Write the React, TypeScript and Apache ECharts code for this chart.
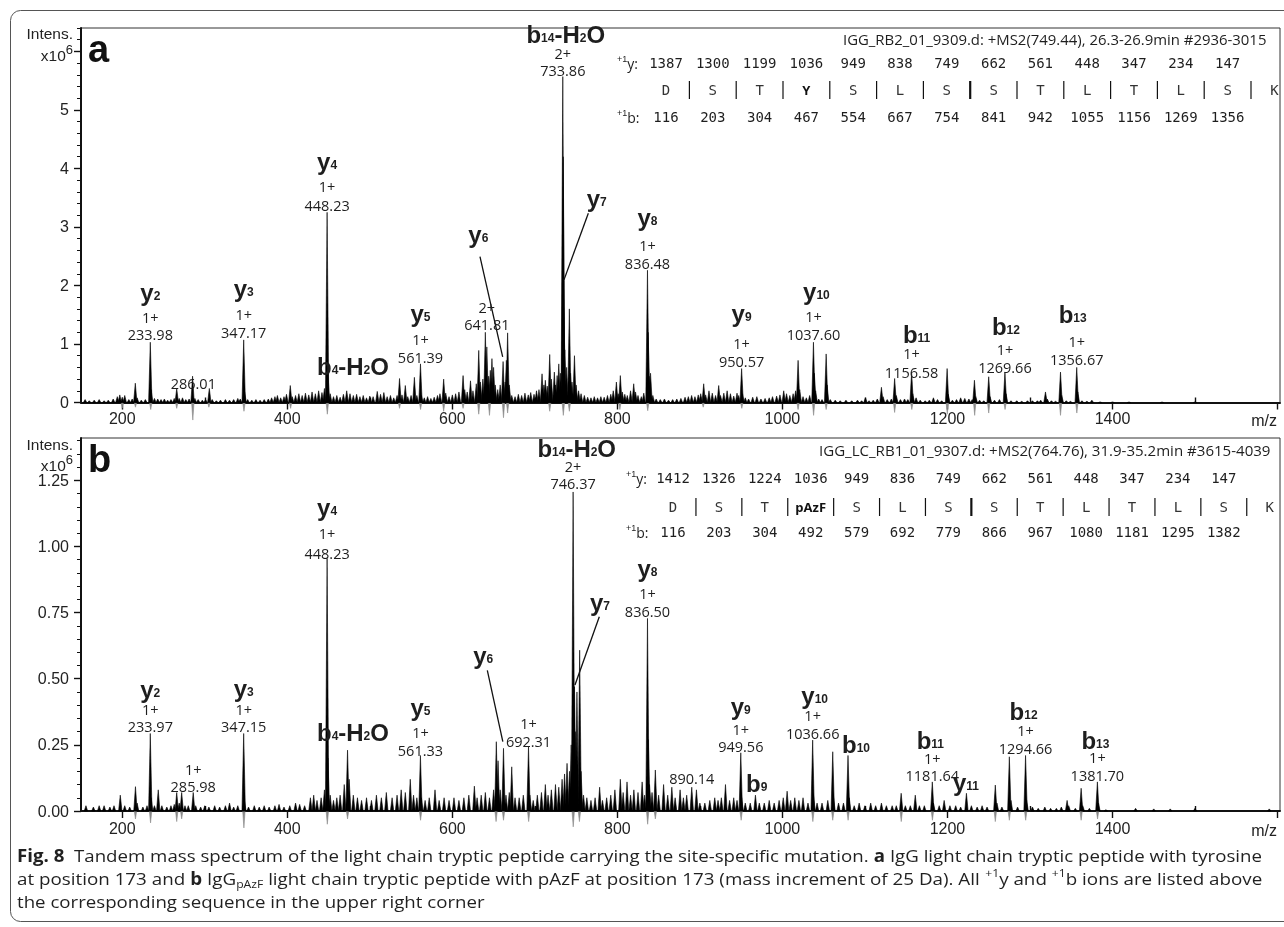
import React, { useEffect, useRef } from "react";
import * as echarts from "echarts";

const SANS = '"Liberation Sans", Arial, Helvetica, sans-serif';
const OPEN = '"Open Sans", "Noto Sans", sans-serif';
const MONO = '"DejaVu Sans Mono", "Liberation Mono", monospace';

// ---------- axes ----------
const X_MIN = 150;
const X_MAX = 1603;
const xMajorTicks = [200, 400, 600, 800, 1000, 1200, 1400, 1600];
const xTickLabels = [200, 400, 600, 800, 1000, 1200, 1400];
const xMinorTicks = [300, 500, 700, 900, 1100, 1300, 1500];

const Y_MAX_A = 6.4;
const yMajorA = [0, 1, 2, 3, 4, 5, 6];
const yLabelsA = [0, 1, 2, 3, 4, 5];
const Y_MAX_B = 1.41;
const yMajorB = [0, 0.25, 0.5, 0.75, 1.0, 1.25];

// ---------- spectrum a: [m/z, intensity x10^6] ----------
const peaksA: [number, number][] = [
  [155,0.05],[160,0.03],[166,0.04],[172,0.05],[178,0.03],[183,0.04],[189,0.06],[194,0.1],[197,0.13],[200,0.09],
  [203,0.12],[208,0.05],[212,0.06],[215.8,0.33],[218,0.08],[223,0.04],[228,0.05],[233.98,1.03],[235,0.22],[239,0.07],
  [243,0.06],[247,0.05],[251,0.06],[255,0.04],[259,0.05],[263,0.07],[266,0.24],[269,0.07],[273,0.08],[277,0.05],
  [281,0.06],[285.2,0.45],[288,0.07],[292,0.05],[297,0.04],[301,0.05],[305.5,0.24],[309,0.05],[314,0.03],[319,0.04],
  [325,0.05],[330,0.04],[335,0.05],[340,0.07],[343,0.06],[347.17,1.07],[348.3,0.18],[352,0.05],[357,0.04],[362,0.05],
  [367,0.04],[372,0.05],[377,0.06],[381,0.08],[385,0.1],[388,0.12],[392,0.08],[396,0.1],[399,0.14],[403.6,0.29],
  [406,0.1],[410,0.12],[414,0.15],[418,0.12],[422,0.16],[426,0.13],[430,0.18],[434,0.15],[438,0.2],[442,0.17],
  [445,0.24],[448.23,3.25],[449.3,0.5],[452,0.15],[456,0.1],[460,0.12],[464,0.09],[468,0.14],[472,0.2],[476,0.15],
  [480,0.12],[484,0.14],[488,0.1],[492,0.12],[496,0.08],[500,0.11],[504,0.1],[509,0.19],[513,0.14],[517,0.17],
  [521,0.1],[525,0.12],[529,0.08],[533,0.12],[536,0.41],[539,0.13],[543,0.29],[546,0.1],[550,0.12],[554,0.43],
  [557,0.12],[561.39,0.66],[562.5,0.12],[566,0.08],[570,0.1],[574,0.07],[578,0.09],[582,0.12],[585,0.15],[589.5,0.4],
  [592,0.16],[596,0.1],[600,0.13],[604,0.15],[608,0.18],[613,0.46],[615,0.22],[618,0.18],[622,0.37],[625,0.2],
  [629,0.32],[632,0.89],[634,0.35],[637,0.4],[640,1.2],[641.8,0.95],[644,0.45],[646,0.55],[648,0.75],[650,0.6],
  [652,0.3],[655,0.22],[658,0.3],[661.5,0.7],[664,0.35],[665.5,0.72],[667,1.19],[669,0.3],[672,0.12],[676,0.1],
  [680,0.14],[684,0.12],[688,0.16],[692,0.13],[695,0.17],[699,0.14],[702,0.2],[705,0.22],[708.7,0.49],[711,0.3],
  [712.7,0.38],[715,0.28],[718,0.82],[720,0.4],[723.6,0.52],[725,0.3],[727,0.46],[729,0.66],[731,0.5],[733.86,5.57],
  [734.4,4.2],[734.9,2.09],[736.3,0.9],[738.5,0.6],[741.8,1.6],[743.3,0.5],[745,0.35],[748,0.8],[750,0.3],[753,0.2],
  [756,0.15],[760,0.12],[764,0.09],[768,0.08],[772,0.1],[776,0.08],[780,0.1],[784,0.09],[788,0.12],[792,0.14],
  [795,0.2],[798.8,0.35],[801,0.15],[803.6,0.46],[806,0.18],[809,0.14],[812,0.12],[816,0.2],[819.8,0.32],[822,0.18],
  [825,0.12],[829,0.1],[832,0.16],[836.48,2.26],[837.3,1.2],[838.5,0.45],[840.2,0.5],[843,0.12],[847,0.06],[852,0.05],
  [857,0.06],[862,0.04],[867,0.05],[872,0.06],[877,0.07],[882,0.09],[886,0.1],[890,0.12],[894,0.1],[898,0.13],
  [901,0.15],[904.6,0.32],[907,0.13],[911,0.2],[915,0.16],[919,0.12],[922.8,0.29],[925,0.12],[929,0.16],[933,0.2],
  [937,0.15],[941,0.11],[945,0.16],[947,0.12],[950.57,0.58],[951.6,0.15],[955,0.08],[959,0.06],[964,0.09],[969,0.1],
  [974,0.06],[979,0.07],[984,0.08],[988,0.1],[993,0.11],[997,0.13],[1001.6,0.2],[1005,0.15],[1009,0.12],[1013,0.15],
  [1016,0.2],[1019,0.72],[1021,0.22],[1025,0.1],[1029,0.08],[1033,0.12],[1037.6,1.03],[1038.7,0.5],[1040.3,0.2],[1044,0.06],
  [1048,0.05],[1053,0.83],[1054.2,0.3],[1058,0.05],[1064,0.04],[1070,0.03],[1077,0.04],[1084,0.03],[1091,0.04],[1096,0.03],
  [1100.6,0.08],[1105,0.03],[1110,0.04],[1115,0.06],[1120,0.26],[1122,0.1],[1127,0.05],[1132,0.06],[1136,0.41],[1138,0.12],
  [1143,0.05],[1148,0.06],[1152,0.05],[1156.58,0.52],[1158,0.15],[1162,0.08],[1167,0.04],[1173,0.03],[1178,0.04],[1183,0.08],
  [1188,0.05],[1193,0.03],[1199.6,0.58],[1201,0.14],[1206,0.04],[1211,0.05],[1216,0.08],[1221,0.07],[1226,0.06],[1230,0.05],
  [1232.7,0.38],[1234.3,0.1],[1239,0.04],[1244,0.03],[1250,0.44],[1251.6,0.1],[1257,0.04],[1263,0.05],[1269.66,0.52],[1271,0.15],
  [1277,0.03],[1284,0.03],[1290,0.02],[1297,0.03],[1303,0.03],[1309,0.03],[1313,0.04],[1318.8,0.18],[1321,0.06],[1326,0.03],
  [1331,0.02],[1337,0.52],[1338.5,0.12],[1344,0.03],[1349,0.02],[1356.67,0.6],[1358,0.18],[1363,0.03],[1369,0.02],[1375,0.04],
  [1385,0.01],[1400,0.01],[1420,0.008],[1460,0.008],[1500,0.01],
];
const dipsA: [number, number][] = [
  [200,-0.1],[216,-0.08],[234.5,-0.12],[266,-0.1],[285.5,-0.3],[305,-0.08],[347.5,-0.15],[404,-0.1],[448.5,-0.2],[536,-0.1],
  [561.5,-0.12],[589.5,-0.15],[613,-0.1],[632,-0.2],[645,-0.22],[662,-0.26],[667,-0.18],[718,-0.15],[734.5,-0.22],[741.8,-0.15],
  [803,-0.12],[836.8,-0.14],[904,-0.08],[950.8,-0.1],[1019,-0.12],[1037.8,-0.22],[1053,-0.12],[1136,-0.17],[1156.8,-0.12],[1199.8,-0.2],
  [1233,-0.22],[1250,-0.18],[1269.8,-0.12],[1337,-0.22],[1356.8,-0.18],
];

// ---------- spectrum b ----------
const peaksB: [number, number][] = [
  [156,0.02],[165,0.015],[172,0.02],[178,0.02],[185,0.015],[190,0.02],[197.6,0.06],[203,0.02],[209,0.015],[216,0.092],
  [218,0.03],[225,0.015],[230,0.02],[233.97,0.293],[235,0.05],[239,0.02],[243.6,0.08],[248,0.02],[254,0.015],[259,0.02],
  [263,0.025],[266,0.07],[269,0.03],[272,0.07],[276,0.02],[280,0.02],[285.98,0.07],[289,0.02],[295,0.015],[300,0.02],
  [305,0.015],[312,0.02],[318,0.015],[325,0.02],[330,0.03],[335,0.015],[340,0.02],[347.15,0.293],[348,0.04],[353,0.015],
  [360,0.02],[366,0.015],[372,0.02],[378,0.015],[385,0.02],[390,0.025],[396,0.015],[403,0.02],[410,0.03],[415,0.025],
  [421,0.02],[428,0.05],[432,0.06],[436,0.04],[441,0.05],[445,0.08],[448.23,0.955],[449.2,0.2],[452,0.06],[456,0.04],
  [460,0.05],[464,0.06],[469,0.1],[473,0.23],[475,0.12],[480,0.06],[485,0.05],[490,0.04],[496,0.05],[502,0.04],
  [508,0.06],[514,0.05],[520,0.07],[527,0.05],[533,0.06],[538,0.08],[543,0.07],[549,0.12],[553,0.06],[557,0.05],
  [561.33,0.21],[562.5,0.05],[567,0.04],[572,0.05],[579,0.08],[584,0.04],[590,0.05],[596,0.04],[602,0.05],[608,0.04],
  [614,0.05],[620,0.06],[626.7,0.094],[630,0.05],[635,0.06],[640,0.07],[645,0.05],[650,0.08],[653.3,0.262],[655.4,0.19],
  [658,0.08],[662,0.237],[665,0.06],[669,0.07],[672,0.167],[676,0.05],[681,0.05],[686,0.06],[692.31,0.243],[694,0.06],
  [698,0.04],[703,0.06],[708,0.07],[712.7,0.1],[716,0.06],[720,0.08],[725,0.1],[729,0.09],[733,0.12],[736,0.14],
  [739,0.18],[742,0.15],[744,0.25],[746.37,1.206],[746.9,0.5],[748,0.47],[749.5,0.3],[751,0.45],[754.3,0.608],[756,0.15],
  [759,0.06],[763,0.05],[768,0.04],[773,0.05],[778.5,0.09],[782,0.04],[787,0.05],[792,0.06],[797,0.08],[803.6,0.12],
  [807,0.07],[811.7,0.11],[816,0.06],[820,0.08],[825,0.07],[830,0.11],[833,0.06],[836.5,0.728],[837.5,0.27],[839,0.1],
  [842,0.07],[846,0.155],[850,0.06],[856,0.1],[861,0.06],[866,0.09],[870,0.05],[876,0.08],[880,0.05],[884,0.06],
  [890.14,0.09],[895.8,0.08],[900,0.03],[906,0.03],[912,0.04],[918,0.05],[922,0.04],[926,0.05],[931,0.1],[936,0.04],
  [941,0.05],[945,0.04],[949.56,0.22],[950.6,0.05],[955,0.03],[961,0.03],[967.3,0.06],[972,0.03],[978,0.03],[984,0.04],
  [990,0.03],[996,0.04],[1001,0.05],[1005.7,0.075],[1010,0.04],[1015,0.05],[1020,0.04],[1025,0.05],[1031,0.03],[1036.66,0.268],
  [1037.7,0.06],[1042,0.03],[1048,0.03],[1055,0.04],[1061,0.224],[1062,0.05],[1068,0.03],[1074,0.03],[1079.5,0.21],[1081,0.05],
  [1087,0.02],[1093,0.03],[1100,0.02],[1107,0.03],[1113,0.02],[1120,0.03],[1126,0.02],[1133,0.02],[1138,0.02],[1143.9,0.067],
  [1149,0.02],[1155,0.02],[1161,0.06],[1166,0.02],[1172,0.02],[1181.64,0.11],[1183,0.03],[1190,0.02],[1196,0.04],[1203,0.02],
  [1210,0.02],[1216,0.015],[1223,0.067],[1229,0.02],[1236,0.015],[1242,0.02],[1248,0.015],[1258,0.098],[1260,0.03],[1266,0.015],
  [1275,0.205],[1277,0.04],[1285,0.015],[1294.66,0.21],[1296,0.04],[1303,0.015],[1310,0.01],[1318,0.015],[1325,0.01],[1332,0.01],
  [1338,0.015],[1345,0.04],[1347,0.02],[1355,0.01],[1362,0.086],[1364,0.02],[1372,0.01],[1381.7,0.11],[1383,0.03],[1392,0.005],
  [1428,0.01],[1450,0.008],[1470,0.008],[1500,0.01],[1590,0.008],
];
const dipsB: [number, number][] = [
  [216,-0.03],[234.3,-0.045],[266,-0.04],[272,-0.03],[347.4,-0.064],[448.5,-0.05],[473,-0.03],[561.5,-0.035],[653,-0.04],[662,-0.035],
  [692.5,-0.04],[746.5,-0.06],[754,-0.04],[836.7,-0.05],[846,-0.03],[950,-0.035],[1036.9,-0.04],[1061,-0.035],[1079.6,-0.035],[1144,-0.04],
  [1181.8,-0.035],[1258,-0.04],[1275,-0.035],[1294.8,-0.035],[1362,-0.035],[1381.9,-0.03],
];

// ---------- peak annotations (text) ----------
type IonLabel = { n?: string; s?: string; t?: string; s2?: string; t2?: string; charge?: string; mz?: string };
const ionLabelsA: IonLabel[] = [
  { n: "y", s: "2", charge: "1+", mz: "233.98" },
  { n: "y", s: "3", charge: "1+", mz: "347.17" },
  { mz: "286.01" },
  { n: "y", s: "4", charge: "1+", mz: "448.23" },
  { n: "b", s: "4", t: "-H", s2: "2", t2: "O" },
  { n: "y", s: "5", charge: "1+", mz: "561.39" },
  { n: "y", s: "6" },
  { charge: "2+", mz: "641.81" },
  { n: "b", s: "14", t: "-H", s2: "2", t2: "O", charge: "2+", mz: "733.86" },
  { n: "y", s: "7" },
  { n: "y", s: "8", charge: "1+", mz: "836.48" },
  { n: "y", s: "9", charge: "1+", mz: "950.57" },
  { n: "y", s: "10", charge: "1+", mz: "1037.60" },
  { n: "b", s: "11", charge: "1+", mz: "1156.58" },
  { n: "b", s: "12", charge: "1+", mz: "1269.66" },
  { n: "b", s: "13", charge: "1+", mz: "1356.67" },
];
const ionLabelsB: IonLabel[] = [
  { n: "y", s: "2", charge: "1+", mz: "233.97" },
  { n: "y", s: "3", charge: "1+", mz: "347.15" },
  { charge: "1+", mz: "285.98" },
  { n: "y", s: "4", charge: "1+", mz: "448.23" },
  { n: "b", s: "4", t: "-H", s2: "2", t2: "O" },
  { n: "y", s: "5", charge: "1+", mz: "561.33" },
  { n: "y", s: "6" },
  { charge: "1+", mz: "692.31" },
  { n: "b", s: "14", t: "-H", s2: "2", t2: "O", charge: "2+", mz: "746.37" },
  { n: "y", s: "7" },
  { n: "y", s: "8", charge: "1+", mz: "836.50" },
  { mz: "890.14" },
  { n: "y", s: "9", charge: "1+", mz: "949.56" },
  { n: "b", s: "9" },
  { n: "y", s: "10", charge: "1+", mz: "1036.66" },
  { n: "b", s: "10" },
  { n: "b", s: "11", charge: "1+", mz: "1181.64" },
  { n: "y", s: "11" },
  { n: "b", s: "12", charge: "1+", mz: "1294.66" },
  { n: "b", s: "13", charge: "1+", mz: "1381.70" },
];

// ---------- annotation layout (anchor in data space + pixel offsets) ----------
type LabelLayout = { at: [number, number]; cdy?: number; ndy?: number; ndx?: number };
const ionLayoutA: LabelLayout[] = [
  { at: [233.98, 1.17], cdy: -17, ndy: -37 },
  { at: [347.17, 1.19], cdy: -18, ndy: -39 },
  { at: [286.1, 0.33] },
  { at: [448.23, 3.37], cdy: -19, ndy: -39 },
  { at: [479.6, 0.61] },
  { at: [561.39, 0.775], cdy: -18, ndy: -39 },
  { at: [631.5, 2.78] },
  { at: [641.81, 1.327], cdy: -17 },
  { at: [733.86, 5.67], cdy: -17, ndy: -36, ndx: 3 },
  { at: [774.9, 3.406] },
  { at: [836.48, 2.381], cdy: -18, ndy: -41 },
  { at: [950.57, 0.7], cdy: -18, ndy: -43 },
  { at: [1037.6, 1.156], cdy: -18, ndy: -38, ndx: 3 },
  { at: [1156.58, 0.513], cdy: -19, ndy: -38, ndx: 5 },
  { at: [1269.66, 0.605], cdy: -18, ndy: -41, ndx: 1 },
  { at: [1356.67, 0.73], cdy: -18, ndy: -45, ndx: -4 },
];
const ionLayoutB: LabelLayout[] = [
  { at: [233.97, 0.318], cdy: -17, ndy: -32 },
  { at: [347.15, 0.318], cdy: -17, ndy: -33 },
  { at: [285.98, 0.092], cdy: -17 },
  { at: [448.23, 0.973], cdy: -20, ndy: -41 },
  { at: [479.6, 0.295] },
  { at: [561.33, 0.23], cdy: -18, ndy: -38 },
  { at: [637.5, 0.57] },
  { at: [692.31, 0.262], cdy: -18 },
  { at: [746.37, 1.2375], cdy: -17, ndy: -35, ndx: 3.6 },
  { at: [778.9, 0.771] },
  { at: [836.5, 0.753], cdy: -18, ndy: -38 },
  { at: [890.14, 0.1235] },
  { at: [949.56, 0.243], cdy: -17, ndy: -35 },
  { at: [968.8, 0.105] },
  { at: [1036.66, 0.293], cdy: -18, ndy: -33, ndx: 2 },
  { at: [1089.2, 0.253] },
  { at: [1181.64, 0.136], cdy: -17, ndy: -35, ndx: -2 },
  { at: [1222.5, 0.088] },
  { at: [1294.66, 0.237], cdy: -18, ndy: -37, ndx: -2 },
  { at: [1381.7, 0.136], cdy: -18, ndy: -35, ndx: -2 },
];
// leader lines: [fromMz, fromInt, toMz, toInt]
const leadersA: number[][] = [
  [633.5, 2.494, 661, 0.78],
  [764.8, 3.235, 735.3, 2.096],
];
const leadersB: number[][] = [
  [642.4, 0.532, 661.2, 0.262],
  [778.1, 0.734, 748.6, 0.476],
];

// ---------- sequence tables ----------
const titleA = "IGG_RB2_01_9309.d: +MS2(749.44), 26.3-26.9min #2936-3015";
const seqA = ["D", "S", "T", "Y", "S", "L", "S", "S", "T", "L", "T", "L", "S", "K"];
const yIonsA = [1387, 1300, 1199, 1036, 949, 838, 749, 662, 561, 448, 347, 234, 147];
const bIonsA = [116, 203, 304, 467, 554, 667, 754, 841, 942, 1055, 1156, 1269, 1356];
const titleB = "IGG_LC_RB1_01_9307.d: +MS2(764.76), 31.9-35.2min #3615-4039";
const seqB = ["D", "S", "T", "pAzF", "S", "L", "S", "S", "T", "L", "T", "L", "S", "K"];
const yIonsB = [1412, 1326, 1224, 1036, 949, 836, 749, 662, 561, 448, 347, 234, 147];
const bIonsB = [116, 203, 304, 492, 579, 692, 779, 866, 967, 1080, 1181, 1295, 1382];
const mutatedIndex = 3;

// ---------- caption ----------
type Seg = { t: string; s?: "b" | "sub" | "sup" };
const captionLines: Seg[][] = [
  [
    { t: "Fig. 8", s: "b" },
    { t: "  Tandem mass spectrum of the light chain tryptic peptide carrying the site-specific mutation. " },
    { t: "a", s: "b" },
    { t: " IgG light chain tryptic peptide with tyrosine" },
  ],
  [
    { t: "at position 173 and " },
    { t: "b", s: "b" },
    { t: " IgG" },
    { t: "pAzF", s: "sub" },
    { t: " light chain tryptic peptide with pAzF at position 173 (mass increment of 25 Da). All " },
    { t: "+1", s: "sup" },
    { t: "y and " },
    { t: "+1", s: "sup" },
    { t: "b ions are listed above" },
  ],
  [{ t: "the corresponding sequence in the upper right corner" }],
];

// ---------- helpers ----------
let measureCtx: CanvasRenderingContext2D | null = null;
function textWidth(text: string, font: string): number {
  if (!measureCtx) measureCtx = document.createElement("canvas").getContext("2d");
  if (!measureCtx) return text.length * 7;
  measureCtx.font = font;
  return measureCtx.measureText(text).width;
}

function minorTicks(step: number, max: number, major: number): number[] {
  const out: number[] = [];
  for (let k = 1; k * step <= max + 1e-9; k++) {
    const v = +(k * step).toFixed(4);
    const r = v / major;
    if (Math.abs(r - Math.round(r)) > 1e-6) out.push(v);
  }
  return out;
}

const AXIS_COLOR = "#111";
const TEXT_COLOR = "#1e1e1e";

function peakRender(color: string, hw: number) {
  return (_params: any, api: any) => {
    const mz = api.value(0);
    const h = api.value(1);
    const base = api.coord([mz, 0]);
    const top = api.coord([mz, h]);
    return {
      type: "polygon",
      shape: { points: [[base[0] - hw, base[1]], [top[0], top[1]], [base[0] + hw, base[1]]] },
      style: { fill: color, stroke: color, lineWidth: 0.6 },
    };
  };
}

const nameRich = {
  n: { fontSize: 24, fontWeight: "bold", fontFamily: SANS, lineHeight: 19, fill: TEXT_COLOR },
  s: { fontSize: 12, fontWeight: "bold", fontFamily: SANS, lineHeight: 9, verticalAlign: "bottom", fill: TEXT_COLOR },
};

function nameText(l: IonLabel): string {
  let s = `{n|${l.n}}{s|${l.s}}`;
  if (l.t) s += `{n|${l.t}}`;
  if (l.s2) s += `{s|${l.s2}}`;
  if (l.t2) s += `{n|${l.t2}}`;
  return s;
}

function labelRender(labels: IonLabel[], layout: LabelLayout[]) {
  return (_params: any, api: any) => {
    const i = api.value(2);
    const l = labels[i];
    const lay = layout[i];
    const p = api.coord([api.value(0), api.value(1)]);
    const children: any[] = [];
    const small = { fontSize: 14.5, fontFamily: OPEN, lineHeight: 12, fill: TEXT_COLOR, align: "center", verticalAlign: "middle" };
    if (l.mz) children.push({ type: "text", x: p[0], y: p[1], style: { text: l.mz, ...small } });
    if (l.charge) children.push({ type: "text", x: p[0], y: p[1] + (lay.cdy ?? -18), style: { text: l.charge, ...small } });
    if (l.n) {
      // the letter "y" sits low in its box; lift it so its visible glyph matches
      const lift = l.n === "y" ? -5 : 0;
      const dy = (l.mz || l.charge ? lay.ndy ?? -38 : 0) + lift;
      children.push({
        type: "text",
        x: p[0] + (lay.ndx ?? 0),
        y: p[1] + dy,
        style: { text: nameText(l), rich: nameRich, align: "center", verticalAlign: "middle", fill: TEXT_COLOR },
      });
    }
    return { type: "group", children };
  };
}

function leaderRender(_params: any, api: any) {
  const a = api.coord([api.value(0), api.value(1)]);
  const b = api.coord([api.value(2), api.value(3)]);
  return {
    type: "line",
    shape: { x1: a[0], y1: a[1], x2: b[0], y2: b[1] },
    style: { stroke: "#111", lineWidth: 1.3 },
  };
}

function panelAxes(gi: number, yMax: number, yMajor: number[], yLabels: number[], yMinor: number[], fmt: (v: number) => string, labelMargin: number) {
  const lineStyle = { color: AXIS_COLOR, width: 1.4 };
  const x = [
    {
      type: "value", gridIndex: gi, min: X_MIN, max: X_MAX, position: "bottom",
      axisLine: { show: true, onZero: false, lineStyle: { color: AXIS_COLOR, width: 2 } },
      axisTick: { show: true, customValues: xMajorTicks, length: 7, lineStyle },
      axisLabel: {
        show: true, customValues: xTickLabels, fontSize: 16, fontFamily: SANS, color: "#222", margin: labelMargin,
        formatter: (v: number) => String(v),
      },
      splitLine: { show: false },
    },
    {
      type: "value", gridIndex: gi, min: X_MIN, max: X_MAX, position: "bottom",
      axisLine: { show: false, onZero: false },
      axisTick: { show: true, customValues: xMinorTicks, inside: true, length: 5, lineStyle },
      axisLabel: { show: false },
      splitLine: { show: false },
    },
  ];
  const y = [
    {
      type: "value", gridIndex: gi, min: 0, max: yMax, position: "left",
      axisLine: { show: true, onZero: false, lineStyle: { color: AXIS_COLOR, width: 2 } },
      axisTick: { show: true, customValues: yMajor, length: 7, lineStyle },
      axisLabel: { show: true, customValues: yLabels, fontSize: 16, fontFamily: SANS, color: "#222", margin: 12, formatter: fmt },
      splitLine: { show: false },
    },
    {
      type: "value", gridIndex: gi, min: 0, max: yMax, position: "left",
      axisLine: { show: false, onZero: false },
      axisTick: { show: true, customValues: yMinor, length: 4, lineStyle: { color: AXIS_COLOR, width: 1 } },
      axisLabel: { show: false },
      splitLine: { show: false },
    },
  ];
  return { x, y };
}

function panelSeries(xi: number, yi: number, peaks: [number, number][], dips: [number, number][], labels: IonLabel[], layout: LabelLayout[], leaders: number[][]) {
  const common = { xAxisIndex: xi, yAxisIndex: yi, clip: false, silent: true, color: TEXT_COLOR, itemStyle: { color: TEXT_COLOR } };
  return [
    { type: "custom", ...common, data: dips, renderItem: peakRender("#8a8a8a", 1.2), z: 1 },
    { type: "custom", ...common, data: peaks, renderItem: peakRender("#000", 1.7), z: 2 },
    { type: "custom", ...common, data: leaders, renderItem: leaderRender, z: 4 },
    {
      type: "custom", ...common,
      data: layout.map((l, i) => [l.at[0], l.at[1], i]),
      renderItem: labelRender(labels, layout), z: 5,
    },
  ];
}

type TableCfg = {
  title: string; titleX: number; titleW: number; titleY: number;
  rowLabelX: number; yRowY: number; seqY: number; bRowY: number;
  x0: number; step: number; seq: string[]; yIons: number[]; bIons: number[];
};

function tableGraphics(c: TableCfg): any[] {
  const els: any[] = [];
  const titleFont = `14px ${OPEN}`;
  const tw = textWidth(c.title, titleFont);
  els.push({
    type: "text", x: c.titleX, y: c.titleY, scaleX: c.titleW / tw,
    style: { text: c.title, font: titleFont, fill: TEXT_COLOR, align: "left", verticalAlign: "middle" },
  });
  const rowRich = {
    p: { fontSize: 9, fontFamily: SANS, lineHeight: 9, verticalAlign: "top", fill: TEXT_COLOR },
    m: { fontSize: 14, fontFamily: OPEN, lineHeight: 18, fill: TEXT_COLOR },
  };
  els.push({ type: "text", x: c.rowLabelX, y: c.yRowY, style: { text: "{p|+1}{m|y:}", rich: rowRich, align: "left", verticalAlign: "middle" } });
  els.push({ type: "text", x: c.rowLabelX, y: c.bRowY, style: { text: "{p|+1}{m|b:}", rich: rowRich, align: "left", verticalAlign: "middle" } });
  const mono = { font: `14px ${MONO}`, fill: TEXT_COLOR, align: "center", verticalAlign: "middle" };
  c.yIons.forEach((v, i) => els.push({ type: "text", x: c.x0 + c.step * i, y: c.yRowY, style: { text: String(v), ...mono } }));
  c.bIons.forEach((v, i) => els.push({ type: "text", x: c.x0 + c.step * i, y: c.bRowY, style: { text: String(v), ...mono } }));
  c.seq.forEach((r, i) => {
    const bold = i === mutatedIndex;
    els.push({
      type: "text", x: c.x0 + c.step * i, y: c.seqY,
      style: {
        text: r,
        font: bold ? `bold 13px ${OPEN}` : `14px ${MONO}`,
        fill: bold ? "#111" : "#333", align: "center", verticalAlign: "middle",
      },
    });
    if (i < c.seq.length - 1) {
      const xm = c.x0 + c.step * (i + 0.5);
      els.push({
        type: "line",
        shape: { x1: xm, y1: c.seqY - 9, x2: xm, y2: c.seqY + 9 },
        style: { stroke: "#111", lineWidth: i === 6 ? 2.2 : 1.2 },
      });
    }
  });
  return els;
}

function captionGraphics(): any[] {
  const fs = 17;
  const fonts: Record<string, string> = {
    r: `${fs}px ${OPEN}`,
    b: `bold ${fs}px ${OPEN}`,
    sub: `11px ${OPEN}`,
    sup: `11px ${OPEN}`,
  };
  const rich = {
    r: { fontSize: fs, fontFamily: OPEN, lineHeight: 22, fill: "#231f20" },
    b: { fontSize: fs, fontFamily: OPEN, fontWeight: "bold", lineHeight: 22, fill: "#231f20" },
    sub: { fontSize: 11, fontFamily: OPEN, lineHeight: 11, verticalAlign: "bottom", fill: "#231f20" },
    sup: { fontSize: 11, fontFamily: OPEN, lineHeight: 11, verticalAlign: "top", fill: "#231f20" },
  };
  const targetW = 1245;
  const widths = captionLines.map((line) => line.reduce((acc, sgm) => acc + textWidth(sgm.t, fonts[sgm.s || "r"]), 0));
  const baseScale = targetW / widths[0];
  const ys = [855, 878, 901];
  return captionLines.map((line, k) => ({
    type: "text",
    x: 17,
    y: ys[k],
    scaleX: k < 2 ? targetW / widths[k] : baseScale,
    style: {
      text: line.map((sgm) => `{${sgm.s || "r"}|${sgm.t}}`).join(""),
      rich, align: "left", verticalAlign: "middle",
    },
  }));
}

function intensLabels(yIntens: number, yX: number): any[] {
  return [
    { type: "text", x: 73, y: yIntens, style: { text: "Intens.", font: `15.5px ${SANS}`, fill: "#222", align: "right", verticalAlign: "middle" } },
    {
      type: "text", x: 73, y: yX,
      style: {
        text: "{x|x10}{s|6}", align: "right", verticalAlign: "middle",
        rich: {
          x: { fontSize: 15.5, fontFamily: SANS, lineHeight: 24, fill: "#222" },
          s: { fontSize: 13, fontFamily: SANS, lineHeight: 13, verticalAlign: "top", fill: "#222" },
        },
      },
    },
  ];
}

export default function App() {
  const ref = useRef<HTMLDivElement>(null);
  useEffect(() => {
    if (!ref.current) return;
    const chart = echarts.init(ref.current, null, { renderer: "svg" });
    const axA = panelAxes(0, Y_MAX_A, yMajorA, yLabelsA, minorTicks(0.2, Y_MAX_A, 1), (v: number) => String(v), 8);
    const axB = panelAxes(1, Y_MAX_B, yMajorB, yMajorB, minorTicks(0.05, Y_MAX_B, 0.25), (v: number) => v.toFixed(2), 9);

    const graphic: any[] = [
      {
        type: "rect", z: -1,
        shape: { x: 10.5, y: 10.5, width: 1290, height: 911, r: 10 },
        style: { fill: "none", stroke: "#555", lineWidth: 1 },
      },
      { type: "text", x: 88, y: 49, style: { text: "a", font: `bold 38px ${SANS}`, fill: "#111", align: "left", verticalAlign: "middle" } },
      { type: "text", x: 88, y: 459, style: { text: "b", font: `bold 38px ${SANS}`, fill: "#111", align: "left", verticalAlign: "middle" } },
      ...intensLabels(33, 55),
      ...intensLabels(444, 465),
      { type: "text", x: 1277, y: 420, style: { text: "m/z", font: `16px ${SANS}`, fill: "#222", align: "right", verticalAlign: "middle" } },
      { type: "text", x: 1277, y: 830, style: { text: "m/z", font: `16px ${SANS}`, fill: "#222", align: "right", verticalAlign: "middle" } },
      ...tableGraphics({
        title: titleA, titleX: 843, titleW: 424, titleY: 40,
        rowLabelX: 617, yRowY: 63, seqY: 90, bRowY: 117,
        x0: 666, step: 46.8, seq: seqA, yIons: yIonsA, bIons: bIonsA,
      }),
      ...tableGraphics({
        title: titleB, titleX: 819, titleW: 452, titleY: 450,
        rowLabelX: 626, yRowY: 478, seqY: 507, bRowY: 532,
        x0: 673, step: 45.9, seq: seqB, yIons: yIonsB, bIons: bIonsB,
      }),
      ...captionGraphics(),
    ];

    chart.setOption({
      animation: false,
      backgroundColor: "#fff",
      color: [TEXT_COLOR],
      grid: [
        { left: 81, top: 28, width: 1199, height: 374.5, show: true, borderColor: "#333", borderWidth: 1, backgroundColor: "transparent" },
        { left: 81, top: 438, width: 1199, height: 373, show: true, borderColor: "#333", borderWidth: 1, backgroundColor: "transparent" },
      ],
      xAxis: [...axA.x, ...axB.x],
      yAxis: [...axA.y, ...axB.y],
      series: [
        ...panelSeries(0, 0, peaksA, dipsA, ionLabelsA, ionLayoutA, leadersA),
        ...panelSeries(2, 2, peaksB, dipsB, ionLabelsB, ionLayoutB, leadersB),
      ],
      graphic,
    });
    return () => chart.dispose();
  }, []);
  return (
    <div
      ref={ref}
      style={{ position: "fixed", left: 0, top: 0, width: 1284, height: 927, background: "#fff", filter: "grayscale(1)" }}
    />
  );
}
